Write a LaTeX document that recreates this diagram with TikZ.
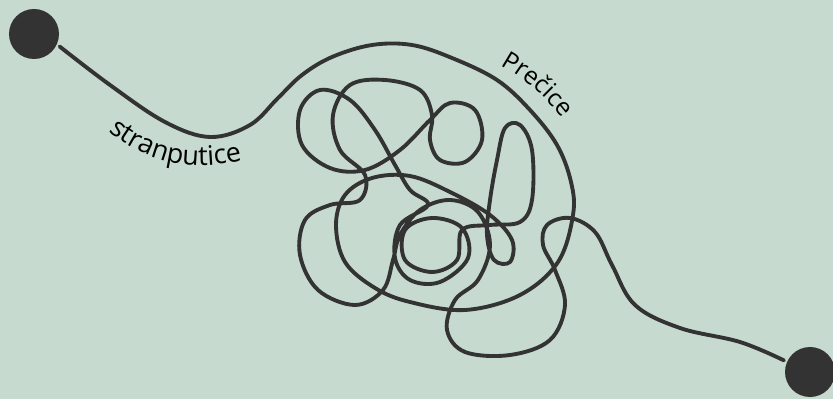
\documentclass[tikz,border=0pt]{standalone}
\usepackage{fontspec}
\setmainfont{Open Sans}
\usepackage{tikz}
\usetikzlibrary{decorations.text}
\definecolor{sage}{RGB}{199,218,207}
\definecolor{ink}{RGB}{51,51,51}
\tikzset{
  dot/.style={circle, fill=ink, minimum size=1.5cm, inner sep=0pt, outer sep=3pt},
  rope/.style={draw=ink, line width=3.3pt, line cap=round, line join=round},
  pathlabel/.style={decorate, decoration={text along path, text align=center, text color=black}},
}

\begin{document}
\begin{tikzpicture}[x=0.03cm, y=-0.03cm]
  % Background
  \fill[sage] (0,0) rectangle (833,399);
  \useasboundingbox (0,0) rectangle (833,399);
  % End points
  \node[dot] (start) at (34,34) {};
  \node[dot] (finish) at (810,372) {};

  % The long way round, then the tangle
  \draw[rope] plot[smooth, tension=0.6] coordinates {
    (start.-26) (110,85) (165,122) (210,137) (250,125) (278,98) (302,75)
    (332,57) (372,45) (412,45) (452,58) (497,80) (530,110) (557,145)
    (571,182) (573,215) (558,262) (520,295) (465,310) (410,302) (375,288)
    (345,262) (336,225) (345,195) (372,178) (410,176) (450,192) (490,215)
    (512,240) (510,262) (494,260) (487,235) (490,200) (497,160) (505,128)
    (520,125) (532,150) (532,200) (520,222) (490,225) (462,230) (457,260)
    (432,272) (405,260) (405,230) (432,218) (462,228) (468,258) (440,282)
    (410,280) (395,258) (400,225) (428,205) (410,190) (395,165) (375,130)
    (350,100) (320,90) (300,110) (302,145) (330,168) (365,170) (400,150)
    (430,120) (450,103) (475,110) (482,140) (465,162) (440,160) (430,140)
    (432,115) (420,90) (385,80) (350,85) (333,115) (340,150) (365,175)
    (360,200) (330,205) (305,220) (300,255) (318,290) (355,305) (383,290)
    (393,260) (400,235) (420,210) (450,200) (478,212) (490,245) (478,280)
    (455,300) (447,330) (465,352) (510,355) (550,340) (565,305) (555,270)
    (543,245) (547,225) (570,218) (595,232) (612,265) (635,305) (680,328)
    (740,342) (finish.156)};

  % Labels
  \path[pathlabel, decoration={text={|\fontsize{23}{23}\selectfont|stranputice}}]
    (86,110) .. controls (135,162) and (188,180) .. (272,152);
  \path[pathlabel, decoration={text={|\fontsize{21}{21}\selectfont|Prečice}}]
    (472,52) .. controls (515,68) and (552,96) .. (580,145);
\end{tikzpicture}
\end{document}
